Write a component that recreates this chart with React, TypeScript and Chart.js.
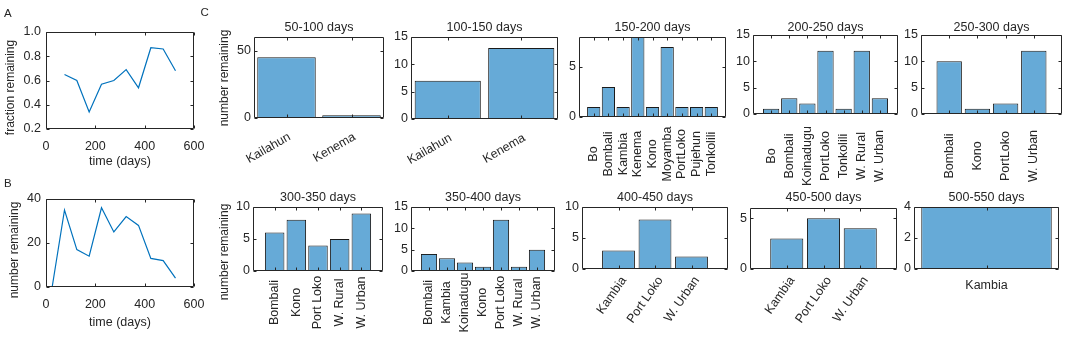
import React, { useEffect, useRef } from "react";
import { Chart, registerables } from "chart.js";

Chart.register(...registerables);

const W = 1065;
const H = 338;
const FONT = "'Liberation Sans', Arial, Helvetica, sans-serif";
const INK = "#262626";
const LINE_BLUE = "#0072bd";
const BAR_FILL = "#66aad7";
const BAR_EDGE = "#1a1a1a";
const FS = 12.5;

Chart.defaults.font.family = FONT;
Chart.defaults.color = INK;

// ---- Panel A: fraction of cases remaining, by 50-day window
const windowMidDays = [75, 125, 175, 225, 275, 325, 375, 425, 475, 525];
const fractionRemaining = [0.65, 0.6, 0.34, 0.57, 0.6, 0.69, 0.54, 0.87, 0.86, 0.68];
const fractionTicks = [0.2, 0.4, 0.6, 0.8, 1.0];

// ---- Panel B: number of cases remaining
const countDays = [25, 75, 125, 175, 225, 275, 325, 375, 425, 475, 525];
const numberRemaining = [0, 35, 17, 14, 36, 25, 32, 28, 13, 12, 4];
const numberTicks = [0, 20, 40];
const timeTicks = [0, 200, 400, 600];

// ---- Panel C: remaining cases by district, per window
const districts50 = ["Kailahun", "Kenema"];
const remaining50 = [45, 2];
const districts100 = ["Kailahun", "Kenema"];
const remaining100 = [7, 13];
const districts150 = ["Bo", "Bombali", "Kambia", "Kenema", "Kono", "Moyamba", "PortLoko", "Pujehun", "Tonkolili"];
const remaining150 = [1, 3, 1, 8, 1, 7, 1, 1, 1];
const districts200 = ["Bo", "Bombali", "Koinadugu", "PortLoko", "Tonkolili", "W. Rural", "W. Urban"];
const remaining200 = [1, 3, 2, 12, 1, 12, 3];
const districts250 = ["Bombali", "Kono", "PortLoko", "W. Urban"];
const remaining250 = [10, 1, 2, 12];
const districts300 = ["Bombali", "Kono", "Port Loko", "W. Rural", "W. Urban"];
const remaining300 = [6, 8, 4, 5, 9];
const districts350 = ["Bombali", "Kambia", "Koinadugu", "Kono", "Port Loko", "W. Rural", "W. Urban"];
const remaining350 = [4, 3, 2, 1, 12, 1, 5];
const districts400 = ["Kambia", "Port Loko", "W. Urban"];
const remaining400 = [3, 8, 2];
const districts450 = ["Kambia", "Port Loko", "W. Urban"];
const remaining450 = [3, 5, 4];
const districts500 = ["Kambia"];
const remaining500 = [4];

const ticks0to50 = [0, 50];
const ticks0to15 = [0, 5, 10, 15];
const ticks0to5 = [0, 5];
const ticks0to10 = [0, 5, 10];
const ticks0to4 = [0, 2, 4];

type Box = { l: number; t: number; r: number; b: number };
type Txt = { text: string; x: number; y: number; rot: number; size: number };

// space reserved for the tick-label strips of each axis
const Y_AXIS_W = 30;
const X_AXIS_H = 30;

// Axes frame with inward tick marks on all four sides
const framePlugin = {
  id: "frame",
  afterDatasetsDraw(chart: any) {
    const { ctx, chartArea: a, scales } = chart;
    const L = a.left + 0.5, R = a.right - 0.5, T = a.top + 0.5, B = a.bottom - 0.5;
    const tl = 3;
    ctx.save();
    ctx.strokeStyle = INK;
    ctx.lineWidth = 1;
    ctx.beginPath();
    ctx.rect(L, T, R - L, B - T);
    scales.x.ticks.forEach((t: any) => {
      const px = Math.round(scales.x.getPixelForValue(t.value)) + 0.5;
      ctx.moveTo(px, B); ctx.lineTo(px, B - tl);
      ctx.moveTo(px, T); ctx.lineTo(px, T + tl);
    });
    scales.y.ticks.forEach((t: any) => {
      const py = Math.round(scales.y.getPixelForValue(t.value)) + 0.5;
      ctx.moveTo(L, py); ctx.lineTo(L + tl, py);
      ctx.moveTo(R, py); ctx.lineTo(R - tl, py);
    });
    ctx.stroke();
    ctx.restore();
  },
};

// Free axis titles (x / y labels)
function axisTextPlugin(items: Txt[]) {
  return {
    id: "axisText",
    afterDraw(chart: any) {
      const ctx = chart.ctx;
      items.forEach((it) => {
        ctx.save();
        ctx.translate(it.x, it.y);
        ctx.rotate((it.rot * Math.PI) / 180);
        ctx.font = `${it.size}px ${FONT}`;
        ctx.fillStyle = INK;
        ctx.textAlign = "center";
        ctx.textBaseline = "middle";
        ctx.fillText(it.text, 0, 0);
        ctx.restore();
      });
    },
  };
}

// District names under each bar, placed from the x scale
function categoryLabelPlugin(labels: string[], rot: number, mode: "end" | "center", dx: number, y: number) {
  return {
    id: "categoryLabels",
    afterDraw(chart: any) {
      const ctx = chart.ctx;
      const xs = chart.scales.x;
      labels.forEach((lab, i) => {
        const px = xs.getPixelForValue(i + 1);
        ctx.save();
        ctx.translate(px + dx, y);
        ctx.rotate((-rot * Math.PI) / 180);
        ctx.font = `${FS}px ${FONT}`;
        ctx.fillStyle = INK;
        ctx.textAlign = mode === "end" ? "right" : "center";
        ctx.textBaseline = "middle";
        ctx.fillText(lab, 0, 0);
        ctx.restore();
      });
    },
  };
}

function fixedTicks(values: number[]) {
  return (scale: any) => {
    scale.ticks = values.map((v) => ({ value: v }));
  };
}

function lineConfig(
  xs: number[], ys: number[], yMin: number, yMax: number, yTicks: number[],
  fmt: (v: number) => string, box: Box, texts: Txt[]
) {
  return {
    type: "line",
    data: {
      datasets: [
        {
          data: xs.map((x, i) => ({ x, y: ys[i] })),
          borderColor: LINE_BLUE,
          borderWidth: 1.2,
          pointRadius: 0,
          fill: false,
          tension: 0,
        },
      ],
    },
    options: {
      responsive: false,
      animation: false,
      devicePixelRatio: 1,
      events: [],
      layout: {
        padding: { left: box.l - Y_AXIS_W, top: box.t, right: W - box.r, bottom: H - box.b - X_AXIS_H },
      },
      plugins: { legend: { display: false }, tooltip: { enabled: false }, title: { display: false } },
      scales: {
        x: {
          type: "linear", min: 0, max: 600,
          afterBuildTicks: fixedTicks(timeTicks),
          afterFit: (s: any) => { s.height = X_AXIS_H; },
          grid: { display: false, drawTicks: false },
          border: { display: false },
          ticks: { autoSkip: false, maxRotation: 0, minRotation: 0, padding: 10, color: INK,
            font: { size: FS, lineHeight: 1.2 }, callback: (v: any) => String(v) },
        },
        y: {
          type: "linear", min: yMin, max: yMax,
          afterBuildTicks: fixedTicks(yTicks),
          afterFit: (s: any) => { s.width = Y_AXIS_W; },
          grid: { display: false, drawTicks: false },
          border: { display: false },
          ticks: { autoSkip: false, padding: 5, color: INK, font: { size: FS }, callback: (v: any) => fmt(Number(v)) },
        },
      },
    },
    plugins: [framePlugin, axisTextPlugin(texts)],
  };
}

type BarPanel = {
  title: string;
  labels: string[];
  values: number[];
  yMax: number;
  yTicks: number[];
  xMin: number;
  xMax: number;
  box: Box;
  titleY: number;
  rot: number;
  mode: "end" | "center";
  dx: number;
  labelY: number;
  yLabel?: { x: number; y: number };
};

function barConfig(p: BarPanel) {
  const gap = Math.max(0, p.box.t - p.titleY - FS / 2);
  const titleH = FS + gap;
  const texts: Txt[] = p.yLabel ? [{ text: "number remaining", x: p.yLabel.x, y: p.yLabel.y, rot: -90, size: 12 }] : [];
  return {
    type: "bar",
    data: {
      datasets: [
        {
          data: p.values.map((v, i) => ({ x: i + 1, y: v })),
          backgroundColor: BAR_FILL,
          borderColor: BAR_EDGE,
          borderWidth: 1,
          borderSkipped: false,
          barPercentage: 0.9,
          categoryPercentage: 1,
        },
      ],
    },
    options: {
      responsive: false,
      animation: false,
      devicePixelRatio: 1,
      events: [],
      layout: {
        padding: { left: p.box.l - Y_AXIS_W, top: p.box.t - titleH, right: W - p.box.r, bottom: H - p.box.b },
      },
      plugins: {
        legend: { display: false },
        tooltip: { enabled: false },
        title: {
          display: true, text: p.title, fullSize: false, color: INK,
          font: { size: FS, weight: "normal", lineHeight: 1 },
          padding: { top: 0, bottom: gap },
        },
      },
      scales: {
        x: {
          type: "linear", min: p.xMin, max: p.xMax, offset: false,
          afterBuildTicks: fixedTicks(p.values.map((_, i) => i + 1)),
          afterFit: (s: any) => { s.height = 0; },
          grid: { display: false, drawTicks: false, offset: false },
          border: { display: false },
          ticks: { display: false },
        },
        y: {
          type: "linear", min: 0, max: p.yMax, beginAtZero: true,
          afterBuildTicks: fixedTicks(p.yTicks),
          afterFit: (s: any) => { s.width = Y_AXIS_W; },
          grid: { display: false, drawTicks: false },
          border: { display: false },
          ticks: { autoSkip: false, padding: 3, color: INK, font: { size: FS }, callback: (v: any) => String(v) },
        },
      },
    },
    plugins: [framePlugin, categoryLabelPlugin(p.labels, p.rot, p.mode, p.dx, p.labelY), axisTextPlugin(texts)],
  };
}

const TOP_TITLE_Y = 27.5;
const BOTTOM_TITLE_Y = 198;

const barPanels: BarPanel[] = [
  { title: "50-100 days", labels: districts50, values: remaining50, yMax: 60, yTicks: ticks0to50, xMin: 0.5, xMax: 2.5,
    box: { l: 254, t: 37, r: 384, b: 118 }, titleY: TOP_TITLE_Y, rot: 30, mode: "end", dx: 3, labelY: 136,
    yLabel: { x: 225, y: 78 } },
  { title: "100-150 days", labels: districts100, values: remaining100, yMax: 15, yTicks: ticks0to15, xMin: 0.5, xMax: 2.5,
    box: { l: 411, t: 37, r: 558, b: 119 }, titleY: TOP_TITLE_Y, rot: 30, mode: "end", dx: 3, labelY: 137 },
  { title: "150-200 days", labels: districts150, values: remaining150, yMax: 8, yTicks: ticks0to5, xMin: 0, xMax: 10,
    box: { l: 579, t: 37, r: 726, b: 117 }, titleY: TOP_TITLE_Y, rot: 90, mode: "center", dx: 0, labelY: 154 },
  { title: "200-250 days", labels: districts200, values: remaining200, yMax: 15, yTicks: ticks0to15, xMin: 0, xMax: 8,
    box: { l: 753, t: 35, r: 898, b: 114 }, titleY: TOP_TITLE_Y, rot: 90, mode: "center", dx: 0, labelY: 156 },
  { title: "250-300 days", labels: districts250, values: remaining250, yMax: 15, yTicks: ticks0to15, xMin: 0, xMax: 5,
    box: { l: 921, t: 35, r: 1062, b: 114 }, titleY: TOP_TITLE_Y, rot: 90, mode: "center", dx: 0, labelY: 156 },
  { title: "300-350 days", labels: districts300, values: remaining300, yMax: 10, yTicks: ticks0to10, xMin: 0, xMax: 6,
    box: { l: 253, t: 207, r: 383, b: 271 }, titleY: BOTTOM_TITLE_Y, rot: 90, mode: "center", dx: 0, labelY: 302.5,
    yLabel: { x: 225, y: 252 } },
  { title: "350-400 days", labels: districts350, values: remaining350, yMax: 15, yTicks: ticks0to15, xMin: 0, xMax: 8,
    box: { l: 411, t: 207, r: 555, b: 271 }, titleY: BOTTOM_TITLE_Y, rot: 90, mode: "center", dx: 0, labelY: 302.5 },
  { title: "400-450 days", labels: districts400, values: remaining400, yMax: 10, yTicks: ticks0to10, xMin: 0, xMax: 4,
    box: { l: 582, t: 207, r: 728, b: 269 }, titleY: BOTTOM_TITLE_Y, rot: 55, mode: "end", dx: 5.5, labelY: 278 },
  { title: "450-500 days", labels: districts450, values: remaining450, yMax: 6, yTicks: ticks0to5, xMin: 0, xMax: 4,
    box: { l: 750, t: 208, r: 897, b: 269 }, titleY: BOTTOM_TITLE_Y, rot: 55, mode: "end", dx: 5.5, labelY: 278 },
  { title: "500-550 days", labels: districts500, values: remaining500, yMax: 4, yTicks: ticks0to4, xMin: 0.5, xMax: 1.5,
    box: { l: 914, t: 207, r: 1059, b: 269 }, titleY: BOTTOM_TITLE_Y, rot: 0, mode: "center", dx: 0, labelY: 285.5 },
];

function ChartLayer({ make }: { make: () => any }) {
  const ref = useRef<HTMLCanvasElement>(null);
  useEffect(() => {
    const chart = new Chart(ref.current as HTMLCanvasElement, make());
    return () => chart.destroy();
  }, []);
  return (
    <canvas
      ref={ref}
      width={W}
      height={H}
      style={{ position: "absolute", left: 0, top: 0, width: W, height: H }}
    />
  );
}

const letterStyle = (left: number, top: number): React.CSSProperties => ({
  position: "absolute",
  left,
  top,
  fontFamily: FONT,
  fontSize: 11.5,
  lineHeight: "11.5px",
  color: INK,
});

export default function App() {
  return (
    <div style={{ position: "absolute", left: 0, top: 0, width: W, height: H, background: "#fff", overflow: "hidden" }}>
      <ChartLayer
        make={() =>
          lineConfig(windowMidDays, fractionRemaining, 0.2, 1.0, fractionTicks, (v) => v.toFixed(1),
            { l: 46, t: 32, r: 194, b: 129 },
            [
              { text: "fraction remaining", x: 10.5, y: 87.5, rot: -90, size: 12 },
              { text: "time (days)", x: 120, y: 162, rot: 0, size: FS },
            ])
        }
      />
      <ChartLayer
        make={() =>
          lineConfig(countDays, numberRemaining, 0, 40, numberTicks, (v) => String(v),
            { l: 46, t: 199, r: 194, b: 287 },
            [
              { text: "number remaining", x: 15, y: 250, rot: -90, size: 12 },
              { text: "time (days)", x: 120, y: 322.5, rot: 0, size: FS },
            ])
        }
      />
      {barPanels.map((p) => (
        <ChartLayer key={p.title} make={() => barConfig(p)} />
      ))}
      <div style={letterStyle(4, 7.6)}>A</div>
      <div style={letterStyle(4, 177.6)}>B</div>
      <div style={letterStyle(200.5, 7.3)}>C</div>
    </div>
  );
}
